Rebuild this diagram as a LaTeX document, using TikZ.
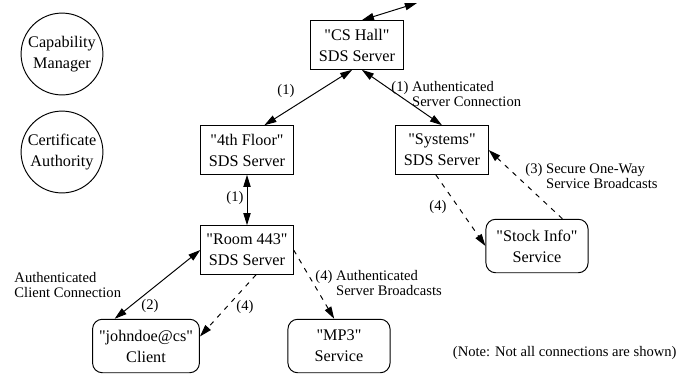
\documentclass[tikz,border=0pt]{standalone}
\usepackage{fontspec}
\setmainfont{Liberation Serif}[Ligatures=TeXOff]
\usetikzlibrary{arrows.meta}

\begin{document}
\begin{tikzpicture}[x=0.617pt, y=-0.617pt, >={Triangle[length=7.5pt,width=4.5pt]},
		every path/.style={line width=0.6pt},
		server/.style={rectangle, draw, align=center, minimum width=57pt, minimum height=30pt, font=\fontsize{10}{13}\selectfont},
		service/.style={rectangle, draw, rounded corners=6pt, align=center, minimum width=63pt, minimum height=33pt, inner sep=4pt, font=\fontsize{10}{13}\selectfont},
		agent/.style={circle, draw, align=center, minimum size=50.5pt, inner sep=1pt, font=\fontsize{10}{13}\selectfont},
		tag/.style={align=left, inner sep=0pt, font=\fontsize{9}{9.3}\selectfont},
		link/.style={<->},
		bcast/.style={->, dash pattern=on 3pt off 3.5pt}]
			\useasboundingbox (0,0) rectangle (689,376);
			% Nodes
			\node[agent] (m1) at (62,54) {Capability\\Manager};
			\node[agent] (m2) at (62,152) {Certificate\\Authority};
			\node[server] (n1) at (357,45) {"CS Hall"\\SDS Server};
			\node[server] (n2) at (247,150) {"4th Floor"\\SDS Server};
			\node[server] (n3) at (442,150) {"Systems"\\SDS Server};
			\node[server] (n4) at (247,250) {"Room 443"\\SDS Server};
			\node[service] (n5) at (146,346) {"johndoe@cs"\\Client};
			\node[service] (n6) at (339,346) {"MP3"\\Service};
			\node[service] (n7) at (537,246) {"Stock Info"\\Service};
			\coordinate (c1) at (417,3);
			% Edges
			\draw[link] (n1.79) -- (c1);
			\draw[link] (n1.-101) -- (n2.55);
			\draw[link] (n1.-79) -- (n3.north);
			\draw[link] (n2.south) -- (n4.north);
			\draw[link] (n4.west) -- (n5.139);
			\draw[bcast] (n4.-70) -- (n5.10);
			\draw[bcast] (n4.east) -- (n6.100);
			\draw[bcast] (n3.-104) -- (n7.west);
			\draw[bcast] (n7.47) -- (n3.east);
			% Labels
			\node[tag] (l1) at (286,91) {(1)};
			\node[tag, anchor=west] (l2) at (391,94) {(1) Authenticated\\\hphantom{(1) }Server Connection};
			\node[tag] (l3) at (235,198) {(1)};
			\node[tag, anchor=west] (l4) at (14,285) {Authenticated\\Client Connection};
			\node[tag] (l5) at (150,306) {(2)};
			\node[tag] (l6) at (245,307) {(4)};
			\node[tag, anchor=west] (l7) at (315,283) {(4) Authenticated\\\hphantom{(4) }Server Broadcasts};
			\node[tag] (l8) at (438,207) {(4)};
			\node[tag, anchor=west] (l9) at (525,176) {(3) Secure One-Way\\\hphantom{(3) }Service Broadcasts};
			\node[tag, anchor=east] (l10) at (677,353) {(Note: Not all connections are shown)};
		\end{tikzpicture}
\end{document}
